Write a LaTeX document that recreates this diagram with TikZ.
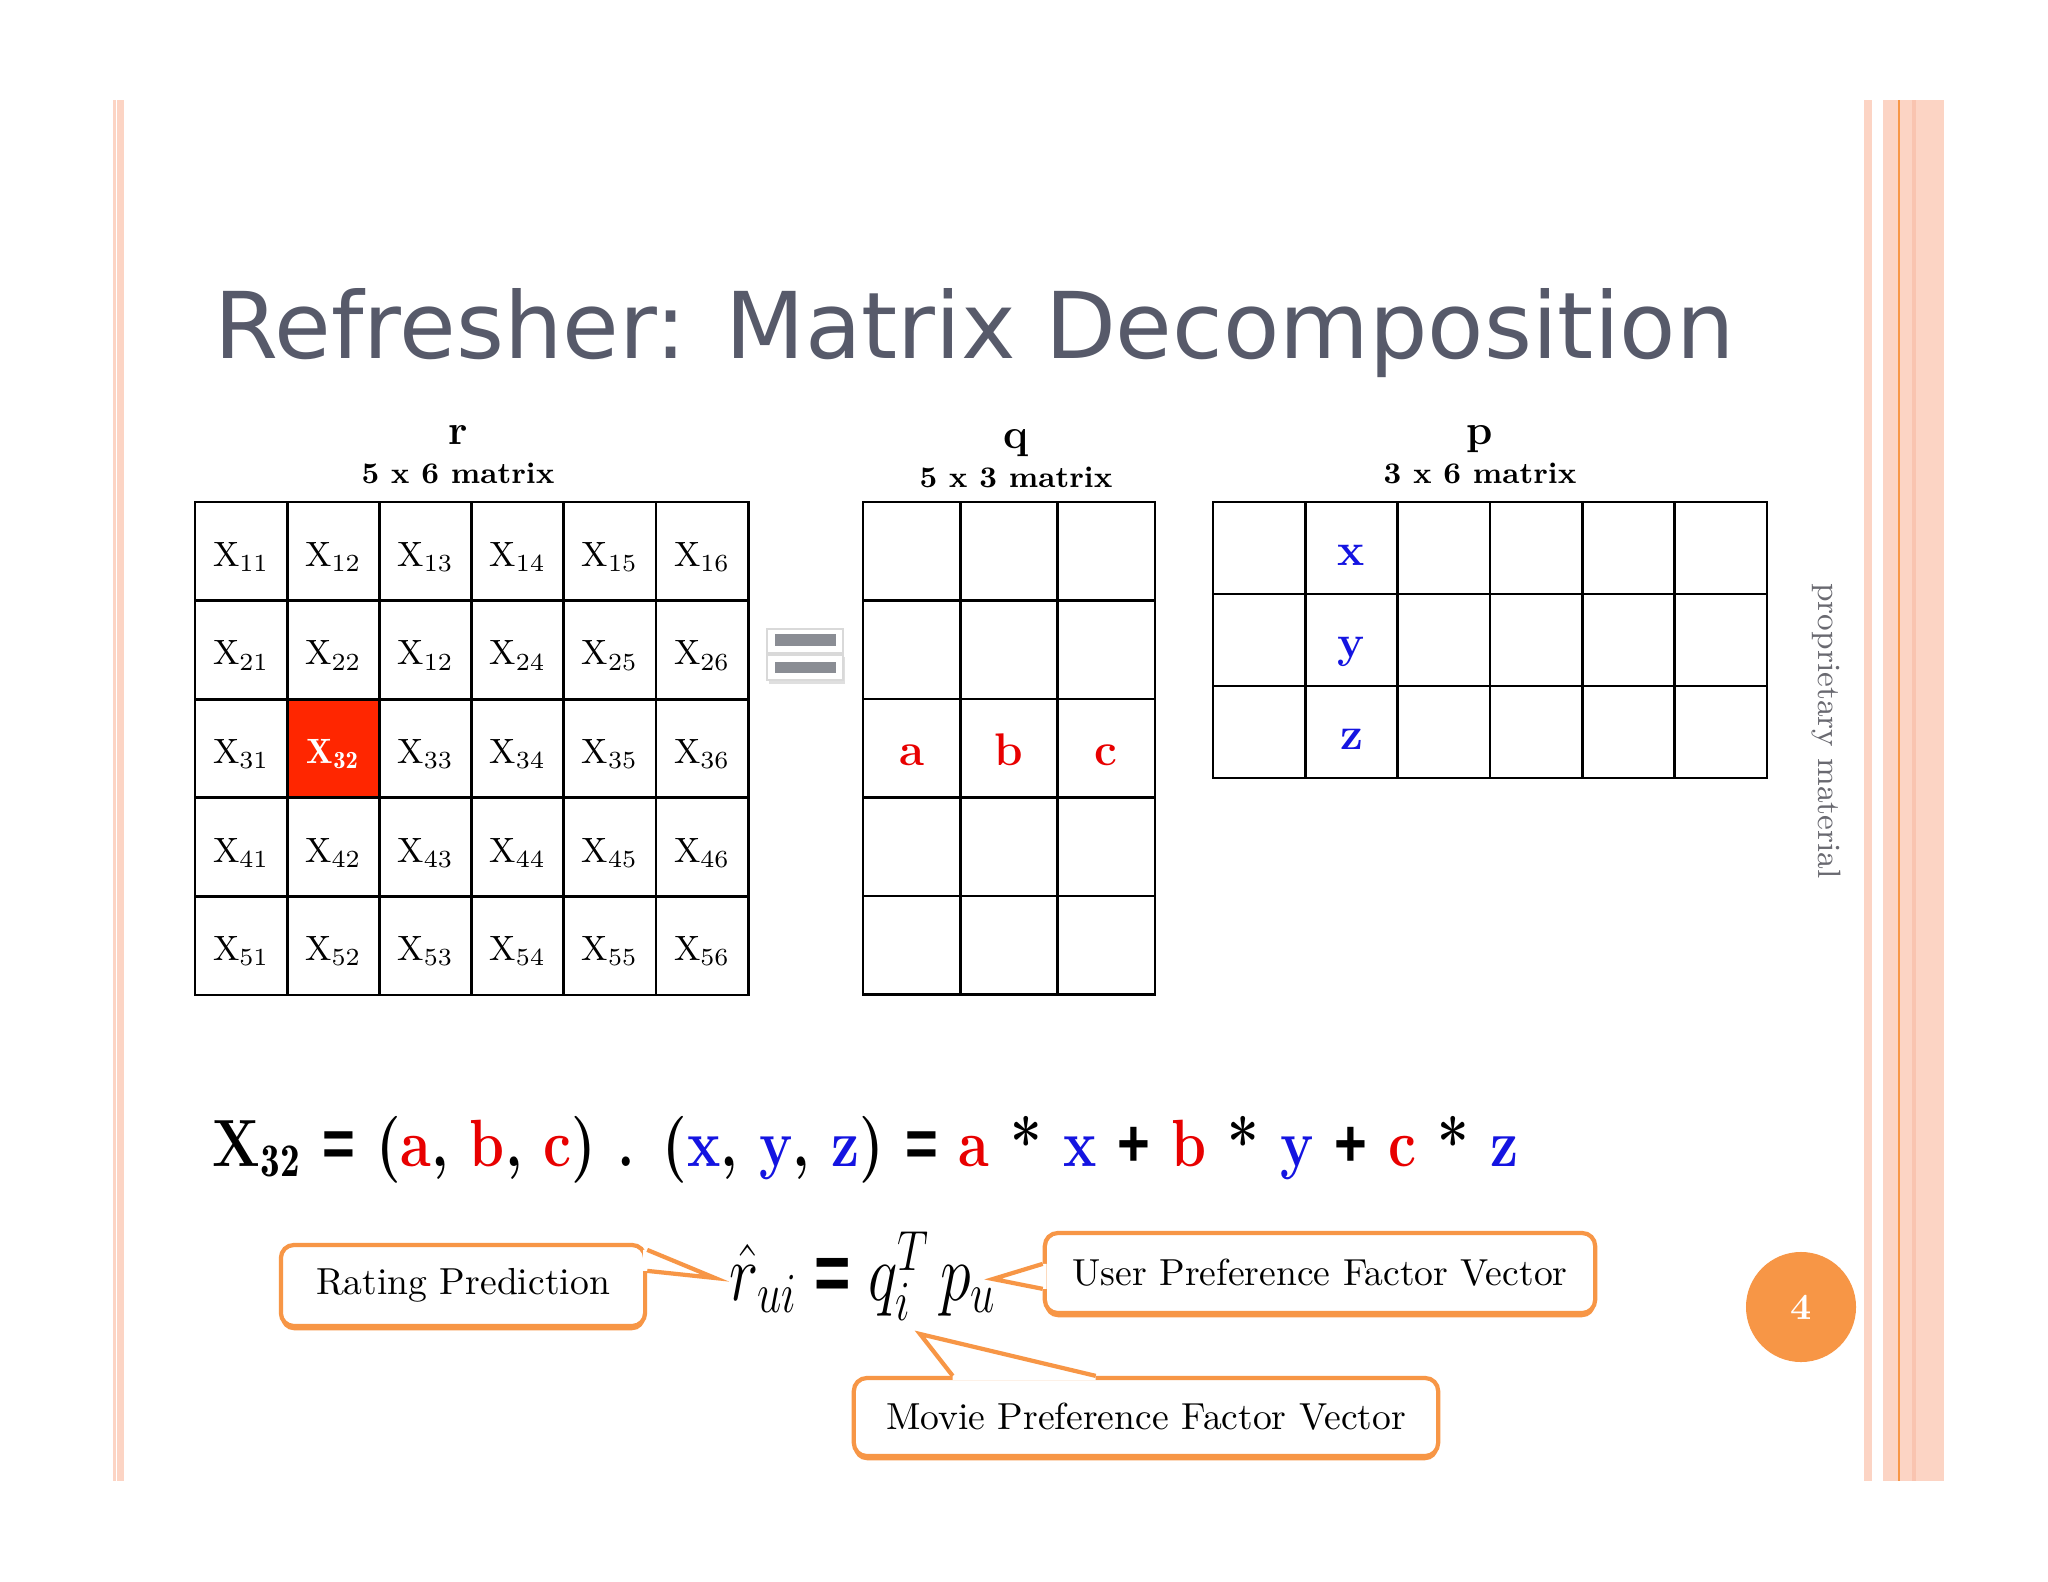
\RequirePackage{fix-cm}
\documentclass[tikz,border=0pt]{standalone}
\usepackage{fontspec}
\usepackage{amsmath}
\usepackage{amssymb}
\usepackage{graphicx}
\usepackage{xcolor}
\usetikzlibrary{calc,shadows}
\newfontfamily\titlefont{DejaVu Sans}
\newfontfamily\eqfont{Liberation Sans}
\newcommand{\heavy}[1]{{\eqfont\bfseries #1}}
\definecolor{stripe}{RGB}{252,212,196}
\definecolor{stripedark}{RGB}{249,196,176}
\definecolor{calloutorange}{RGB}{247,150,70}
\definecolor{titlegray}{RGB}{87,90,106}
\definecolor{propgray}{RGB}{105,105,112}
\definecolor{cellred}{RGB}{255,38,0}
\definecolor{eqred}{RGB}{232,0,0}
\definecolor{eqblue}{RGB}{20,20,225}
\definecolor{bargray}{RGB}{138,141,148}

\tikzset{
  gridline/.style={line width=0.75pt, line cap=rect},
  cell/.style={anchor=base, inner sep=0pt, font=\fontsize{10}{12}\selectfont},
  namelabel/.style={anchor=base, inner sep=0pt, font=\fontsize{12}{14}\selectfont\bfseries},
  dimlabel/.style={anchor=base, inner sep=0pt, font=\fontsize{8.5}{10}\selectfont\bfseries},
  factor/.style={anchor=base, inner sep=0pt, font=\fontsize{13}{15}\selectfont\bfseries},
  callout/.style={draw=calloutorange, line width=1.2pt, fill=white, rounded corners=0.13cm,
    inner sep=0pt, font=\fontsize{10.7}{13}\selectfont,
    drop shadow={shadow xshift=0pt, shadow yshift=-1.2pt, fill=calloutorange, opacity=1}},
}

\begin{document}
\begin{tikzpicture}[x=0.01cm, y=-0.01cm]
  % Page
  \useasboundingbox (0,0) rectangle (2048,1582);
  \fill[white] (0,0) rectangle (2048,1582);

  % Side stripes
  \fill[stripe] (113,100) rectangle (116,1481);
  \fill[stripe] (117,100) rectangle (124,1481);
  \fill[stripe] (1864,100) rectangle (1872,1481);
  \fill[stripe] (1883,100) rectangle (1944,1481);
  \fill[stripedark] (1912,100) rectangle (1916,1481);
  \fill[calloutorange] (1898,100) rectangle (1900,1481);

  % Title
  \node[anchor=base west, inner sep=0pt, text=titlegray,
        font=\titlefont\fontsize{26.2}{31}\selectfont] (title) at (214,358)
        {Refresher: Matrix Decomposition};

  % r matrix
  \fill[cellred] (287.2,699.2) rectangle (379.4,797.8);
  \foreach \i in {0,...,6}
    \draw[gridline] (195+\i*92.2,502) -- (195+\i*92.2,995);
  \foreach \j in {0,...,5}
    \draw[gridline] (195,502+\j*98.6) -- (748,502+\j*98.6);
  \foreach \row/\labs in {1/{11,12,13,14,15,16},2/{21,22,12,24,25,26},
      3/{31,32,33,34,35,36},4/{41,42,43,44,45,46},5/{51,52,53,54,55,56}}
    \foreach \lab [count=\col] in \labs {
      \ifnum\lab=32\relax\else
        \node[cell] (r\row\col) at (195+\col*92.2-46.1,502+\row*98.6-34.3) {$\mathrm{X}_{\lab}$};
      \fi
    }
  \node[cell, text=white] (r32) at (333.3,763.5) {$\mathbf{X}_{\mathbf{32}}$};
  \node[namelabel] (rname) at (458,444) {r};
  \node[dimlabel] (rdim) at (458,483) {5 x 6 matrix};

  % Equals
  \fill[gray!25] (769,657) rectangle (845,684);
  \filldraw[fill=white, draw=gray!30] (767,629) rectangle (843,653);
  \filldraw[fill=white, draw=gray!30] (767,655) rectangle (843,680);
  \fill[bargray] (775,634) rectangle (836,646);
  \fill[bargray] (775,662) rectangle (836,673);

  % q matrix
  \foreach \i in {0,...,3}
    \draw[gridline] (863+\i*97.3,502) -- (863+\i*97.3,994.5);
  \foreach \j in {0,...,5}
    \draw[gridline] (863,502+\j*98.5) -- (1155,502+\j*98.5);
  \node[factor, text=eqred] (qa) at (911.7,765) {a};
  \node[factor, text=eqred] (qb) at (1009,765) {b};
  \node[factor, text=eqred] (qc) at (1106.3,765) {c};
  \node[namelabel] (qname) at (1016,448) {q};
  \node[dimlabel] (qdim) at (1016,487) {5 x 3 matrix};

  % p matrix
  \foreach \i in {0,...,6}
    \draw[gridline] (1213+\i*92.3,502) -- (1213+\i*92.3,778);
  \foreach \j in {0,...,3}
    \draw[gridline] (1213,502+\j*92) -- (1767,502+\j*92);
  \node[factor, text=eqblue] (px) at (1351.5,565) {x};
  \node[factor, text=eqblue] (py) at (1351.5,657) {y};
  \node[factor, text=eqblue] (pz) at (1351.5,749) {z};
  \node[namelabel] (pname) at (1480,444) {p};
  \node[dimlabel] (pdim) at (1480,483) {3 x 6 matrix};

  % Dot product
  \node[anchor=base west, inner sep=0pt, font=\fontsize{19}{23}\selectfont\bfseries] (dot) at (212,1166)
    {\scalebox{0.84}[1]{X$_{\mathbf{32}}$ \heavy{=} (\textcolor{eqred}{a}, \textcolor{eqred}{b}, \textcolor{eqred}{c})
     . (\textcolor{eqblue}{x}, \textcolor{eqblue}{y}, \textcolor{eqblue}{z})
     \heavy{=} \textcolor{eqred}{a} * \textcolor{eqblue}{x} \heavy{+} \textcolor{eqred}{b} * \textcolor{eqblue}{y}
     \heavy{+} \textcolor{eqred}{c} * \textcolor{eqblue}{z}}};

  % Prediction formula
  \node[anchor=base west, inner sep=0pt, font=\fontsize{23}{28}\selectfont] (pred) at (729,1300)
    {\scalebox{0.77}[1]{$\hat{r}_{ui} \mathrel{\text{\heavy{=}}} q_i^{T}\, p_u$}};

  % Callouts
  \node[callout, minimum width=3.64cm, minimum height=0.81cm] (rating) at (463,1285.5) {Rating Prediction};
  \node[callout, minimum width=5.5cm, minimum height=0.8cm] (user) at (1320,1273) {User Preference Factor Vector};
  \node[callout, minimum width=5.84cm, minimum height=0.78cm] (movie) at (1146,1417) {Movie Preference Factor Vector};

  \coordinate (ratingtip) at (715,1278);
  \coordinate (usertip) at (993,1279);
  \coordinate (movietip) at (920,1334);

  \fill[white] ($(rating.north east)+(-4,7)$) -- ($(rating.north east)+(0,7)$) -- (ratingtip)
    -- ($(rating.north east)+(0,28)$) -- ($(rating.north east)+(-4,28)$) -- cycle;
  \draw[calloutorange, line width=1.2pt] ($(rating.north east)+(0,7)$) -- (ratingtip) -- ($(rating.north east)+(0,28)$);

  \fill[white] ($(user.north west)+(4,33)$) -- ($(user.north west)+(0,33)$) -- (usertip)
    -- ($(user.north west)+(0,58)$) -- ($(user.north west)+(4,58)$) -- cycle;
  \draw[calloutorange, line width=1.2pt] ($(user.north west)+(0,33)$) -- (usertip) -- ($(user.north west)+(0,58)$);

  \fill[white] ($(movie.north west)+(101,4)$) -- ($(movie.north west)+(101,0)$) -- (movietip)
    -- ($(movie.north west)+(244,0)$) -- ($(movie.north west)+(244,4)$) -- cycle;
  \draw[calloutorange, line width=1.2pt] ($(movie.north west)+(101,0)$) -- (movietip) -- ($(movie.north west)+(244,0)$);

  % Page number
  \node[circle, fill=calloutorange, minimum size=1.1cm, inner sep=0pt, text=white,
        font=\fontsize{10.5}{12}\selectfont\bfseries] (pagenum) at (1801,1307) {4};

  % Side note
  \node[rotate=-90, text=propgray, font=\fontsize{9.2}{11}\selectfont] (prop) at (1826,731) {proprietary material};
\end{tikzpicture}
\end{document}
